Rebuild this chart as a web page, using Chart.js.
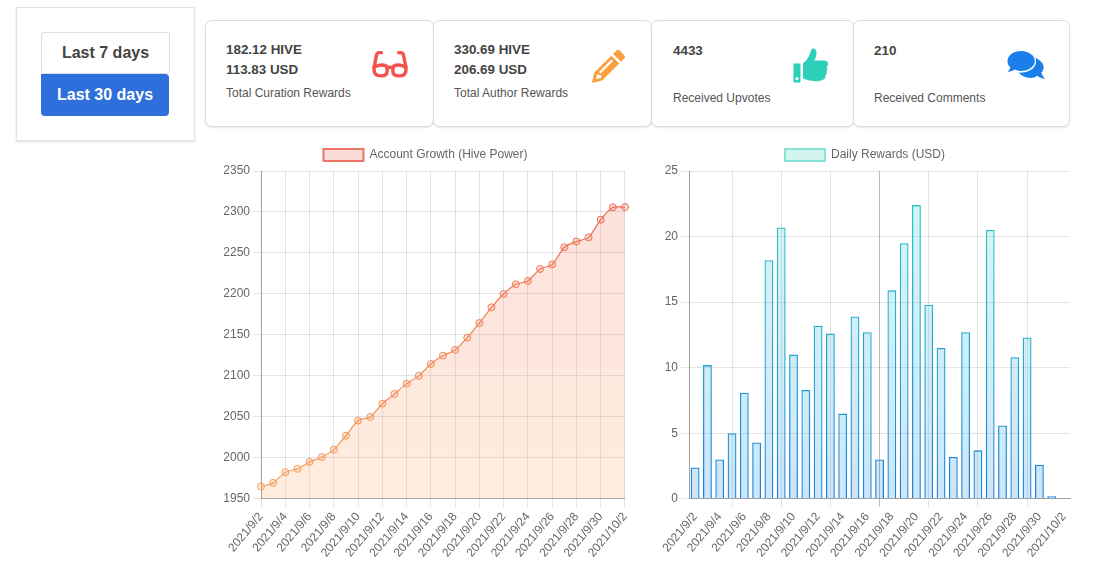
<!DOCTYPE html>
<html>
<head>
<meta charset="utf-8">
<title>Account stats</title>
<script src="https://cdn.jsdelivr.net/npm/chart.js@4"></script>
<style>
  html, body { margin: 0; padding: 0; background: #fff; overflow: hidden; }
  body { width: 1093px; height: 577px; position: relative; font-family: "Liberation Sans", Arial, sans-serif; color: #444; }
  .panel { position: absolute; left: 16px; top: 7px; width: 177px; height: 132px; border: 1px solid #e2e2e2; box-shadow: 0 1px 2px rgba(0,0,0,.12); }
  .btn { position: absolute; font-size: 16px; font-weight: bold; text-align: center; box-sizing: border-box; }
  .btn.off { left: 41px; top: 32px; width: 129px; height: 42px; line-height: 40px; border: 1px solid #ddd; border-radius: 3px; color: #444; background: #fff; }
  .btn.on { left: 41px; top: 74px; width: 128px; height: 42px; line-height: 41px; border-radius: 0 4px 4px 4px; color: #fff; background: #2e6fdc; }
  .card { position: absolute; top: 20px; height: 107px; box-sizing: border-box; border: 1px solid #ddd; border-radius: 7px; background: #fff; box-shadow: 0 1px 2px rgba(0,0,0,.1); }
  .card b { position: absolute; font-size: 13.4px; white-space: nowrap; color: #444; line-height: 20px; }
  .card span { position: absolute; font-size: 12px; white-space: nowrap; color: #555; line-height: 14px; }
  .card svg { position: absolute; }
  .chartbox { position: absolute; top: 139px; height: 424px; }
</style>
</head>
<body>
<div class="panel"></div>
<div class="btn off">Last 7 days</div>
<div class="btn on">Last 30 days</div>

<div class="card" style="left:205px;width:229px">
  <b style="left:20px;top:19px">182.12 HIVE</b>
  <b style="left:20px;top:39px">113.83 USD</b>
  <span style="left:20px;top:65px">Total Curation Rewards</span>
  <svg style="left:166px;top:29px" width="36" height="29" viewBox="0 0 38 30">
    <g fill="none" stroke="#f4524d" stroke-width="3.6" stroke-linecap="round" stroke-linejoin="round">
      <path d="M10 2.5 H7.5 Q5.5 2.5 4.8 5 L2.2 18 M28 2.5 H30.5 Q32.5 2.5 33.2 5 L35.8 18"/>
      <path d="M2.2 18 Q6 15.5 10 15.5 Q16 15.5 16 19 V22 Q16 27 9.5 27 Q2.2 27 2.2 21 Z"/>
      <path d="M35.8 18 Q32 15.5 28 15.5 Q22 15.5 22 19 V22 Q22 27 28.5 27 Q35.8 27 35.8 21 Z"/>
      <path d="M16 19 Q19 17 22 19"/>
    </g>
  </svg>
</div>

<div class="card" style="left:433px;width:219px">
  <b style="left:20px;top:19px">330.69 HIVE</b>
  <b style="left:20px;top:39px">206.69 USD</b>
  <span style="left:20px;top:65px">Total Author Rewards</span>
  <svg style="left:158px;top:28px" width="34" height="34" viewBox="0 0 34 34">
    <path fill="#f9a03f" d="M24.5 1.5 Q26 0.2 27.6 1.5 L32.4 6.4 Q33.8 8 32.4 9.5 L29 12.8 L21.1 4.9 Z M19.3 6.7 L27.2 14.6 L10 31.6 L1 33.8 Q0 34 0.2 33 L2.2 23.8 Z M5 25 L4 30 L9 29 L9 26.2 L6.2 25.8 Z"/>
    <path fill="#fff" d="M19.5 10.5 L21 12 L8.5 24.5 L7 23 Z"/>
  </svg>
</div>

<div class="card" style="left:651px;width:203px">
  <b style="left:21px;top:20px">4433</b>
  <span style="left:21px;top:70px">Received Upvotes</span>
  <svg style="left:141px;top:27px" width="36" height="35" viewBox="0 0 36 35">
    <path fill="#2dcfb8" d="M0.5 15.5 H7.5 V33.5 Q7.5 34.5 6.5 34.5 H1.5 Q0.5 34.5 0.5 33.5 Z M4 29 A1.6 1.6 0 1 0 4 32.2 A1.6 1.6 0 1 0 4 29 Z"/>
    <path fill="#2dcfb8" d="M10 15.5 Q14 12 16 8 Q17.6 4.5 18 2 Q18.5 0 20.8 0.5 Q24 1.5 23.5 6 Q23 9.5 21.5 12.5 H31 Q35 12.5 35 16 Q35 18 33.8 19 Q35 21 33.6 23.5 Q34.2 26 32.4 27.6 Q32.8 31 29.5 32 Q27 33.6 21 33 Q15 32.5 10 30.5 Z"/>
  </svg>
</div>

<div class="card" style="left:853px;width:217px">
  <b style="left:20px;top:20px">210</b>
  <span style="left:20px;top:70px">Received Comments</span>
  <svg style="left:153px;top:30px" width="38" height="30" viewBox="0 0 38 30">
    <path fill="#1a7fea" d="M14 0 C6.3 0 0.5 4.6 0.5 10.2 C0.5 12.6 1.6 14.8 3.4 16.5 C2.7 18.6 1.2 20 0.5 20.8 C3.6 20.8 6.4 19.6 8 18.5 C9.8 19.3 11.8 20 14 20 C21.6 20 27.8 15.6 27.8 10 C27.8 4.4 21.6 0 14 0 Z"/>
    <path fill="#1a7fea" d="M28.6 6.6 C31.4 8.4 34.4 10.6 36 13 C37.4 16.8 36.4 19.6 34.4 21.6 C35 24 36.6 26.2 37.8 28.2 C35 27.6 32 26.4 30.2 24.8 C28.4 26.4 26 27 24 27 C18 27 13.8 24.6 11.8 21.6 C21.4 22.6 31.4 17 28.6 6.6 Z"/>
  </svg>
</div>

<div class="chartbox" style="left:212px;width:427px"><canvas id="growthChart"></canvas></div>
<div class="chartbox" style="left:652px;width:426px"><canvas id="rewardsChart"></canvas></div>

<script>
const dayLabels = ["2021/9/2","2021/9/3","2021/9/4","2021/9/5","2021/9/6","2021/9/7","2021/9/8","2021/9/9","2021/9/10","2021/9/11","2021/9/12","2021/9/13","2021/9/14","2021/9/15","2021/9/16","2021/9/17","2021/9/18","2021/9/19","2021/9/20","2021/9/21","2021/9/22","2021/9/23","2021/9/24","2021/9/25","2021/9/26","2021/9/27","2021/9/28","2021/9/29","2021/9/30","2021/10/1","2021/10/2"];
const hivePower = [1965,1969.5,1982.5,1986.6,1995,2001,2010,2027,2045.5,2050,2066,2078,2090.6,2100,2114.6,2124.8,2131.7,2146.7,2164.6,2183.7,2200,2211.8,2215.9,2230.5,2236,2257,2264,2269,2290.6,2305.7,2306];
const dailyRewards = [2.4,10.2,3,5,8.1,4.3,18.2,20.7,11,8.3,13.2,12.6,6.5,13.9,12.7,3,15.9,19.5,22.4,14.8,11.5,3.2,12.7,3.7,20.5,5.6,10.8,12.3,2.6,0.2,null];

const tickColor = '#666';
const fontFamily = '"Liberation Sans", Arial, sans-serif';

function vertical(ctx, top, bottom){
  const chart = ctx.chart;
  if(!chart.chartArea) return bottom;
  let g = chart.ctx.createLinearGradient(0, chart.chartArea.top, 0, chart.chartArea.bottom);
  g.addColorStop(0, top);
  g.addColorStop(1, bottom);
  return g;
}

function axes(yMin, yMax, yStep, yWidth, darkTick){
  return {
    x: {
      border: { color: '#a0a0a0' },
      grid: { color: (c) => c.index === darkTick ? 'rgba(0,0,0,0.27)' : 'rgba(0,0,0,0.1)' },
      ticks: { color: tickColor, minRotation: 50, maxRotation: 50, maxTicksLimit: 16, font: { size: 12, family: fontFamily } }
    },
    y: {
      min: yMin, max: yMax,
      afterFit: (scale) => { scale.width = yWidth; },
      border: { color: '#a0a0a0' },
      grid: { color: 'rgba(0,0,0,0.1)' },
      ticks: { color: tickColor, stepSize: yStep, callback: (v) => v, font: { size: 12, family: fontFamily } }
    }
  };
}

function legend(fill, stroke){
  return {
    labels: {
      color: tickColor,
      boxWidth: 40,
      font: { size: 12, family: fontFamily },
      generateLabels: (chart) => [{ text: chart.data.datasets[0].label, fillStyle: fill, strokeStyle: stroke, lineWidth: 2, datasetIndex: 0, fontColor: tickColor }]
    }
  };
}

new Chart(document.getElementById('growthChart'), {
  type: 'line',
  data: {
    labels: dayLabels,
    datasets: [{
      label: 'Account Growth (Hive Power)',
      data: hivePower,
      fill: true,
      tension: 0.2,
      borderWidth: 1.2,
      pointRadius: 3.5,
      pointBorderWidth: 1,
      borderColor: (c) => vertical(c, '#ea6552', '#f7a35c'),
      pointBorderColor: (c) => vertical(c, '#ea6552', '#f7a35c'),
      pointBackgroundColor: (c) => vertical(c, 'rgba(234,101,82,0.22)', 'rgba(247,163,92,0.22)'),
      backgroundColor: (c) => vertical(c, 'rgba(244,100,80,0.2)', 'rgba(250,165,90,0.2)')
    }]
  },
  options: {
    responsive: true,
    maintainAspectRatio: false,
    animation: false,
    plugins: { legend: legend('#fcdcd8', '#ec7465') },
    scales: axes(1950, 2350, 50, 49, -1)
  }
});

new Chart(document.getElementById('rewardsChart'), {
  type: 'bar',
  data: {
    labels: dayLabels,
    datasets: [{
      label: 'Daily Rewards (USD)',
      data: dailyRewards,
      borderWidth: 1.3,
      borderColor: (c) => vertical(c, '#2ccfc4', '#1b80dc'),
      backgroundColor: (c) => vertical(c, 'rgba(45,212,192,0.2)', 'rgba(26,140,235,0.22)')
    }]
  },
  options: {
    responsive: true,
    maintainAspectRatio: false,
    animation: false,
    plugins: { legend: legend('#d3f5ef', '#8ae2d6') },
    scales: axes(0, 25, 5, 37, 16)
  }
});
</script>
</body>
</html>
